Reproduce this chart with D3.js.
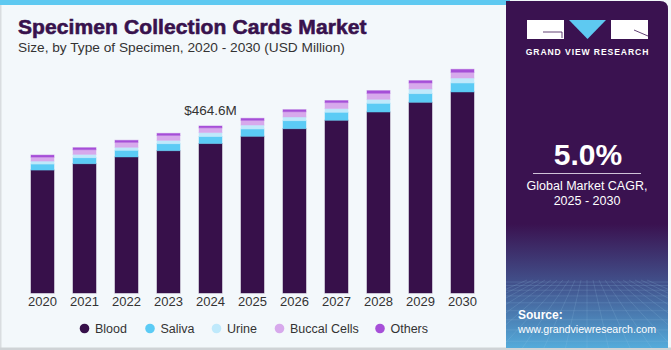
<!DOCTYPE html>
<html><head><meta charset="utf-8">
<script src="https://cdn.jsdelivr.net/npm/d3@7"></script>
<style>
html,body{margin:0;padding:0;background:#fff;}
svg{display:block;font-family:"Liberation Sans",Arial,sans-serif;}
</style></head>
<body><svg id="chart" width="671" height="350"></svg>
<script>
const years = ["2020","2021","2022","2023","2024","2025","2026","2027","2028","2029","2030"];
const seriesNames = ["Blood","Saliva","Urine","Buccal Cells","Others"];
const blood  = [342.0, 359.7, 378.4, 395.9, 415.8, 435.9, 457.1, 480.5, 503.5, 530.5, 559.2];
const saliva = [16.7, 16.7, 18.6, 19.5, 19.6, 20.3, 22.3, 22.3, 24.2, 24.2, 25.0];
const urine  = [8.3, 9.2, 8.3, 9.2, 11.0, 11.1, 10.3, 10.3, 11.1, 13.1, 13.9];
const buccal = [11.1, 13.1, 13.9, 13.9, 13.2, 13.1, 14.7, 16.7, 16.7, 16.7, 15.9];
const others = [5.6, 5.6, 5.6, 5.6, 5.0, 5.6, 5.6, 5.6, 7.5, 6.4, 8.3];
const colors = ["#37104a","#5bcbf5","#bfe9fb","#d7a9ec","#a64fd8"];
const annotationYear = "2024";
const annotationText = "$464.6M";

const svg = d3.select("#chart");
const W = 671, H = 350;

// background
svg.append("rect").attr("x",0).attr("y",0).attr("width",W).attr("height",H).attr("fill","#f3f8fb");
svg.append("rect").attr("x",0).attr("y",0).attr("width",1.5).attr("height",H).attr("fill","#d9dde0");
svg.append("rect").attr("x",0).attr("y",347.5).attr("width",W).attr("height",2.5).attr("fill","#cfd3d6");
svg.append("rect").attr("x",0).attr("y",0).attr("width",510).attr("height",5).attr("fill","#5ec9f1");

// titles
svg.append("text").attr("x",18).attr("y",34).text("Specimen Collection Cards Market")
  .attr("font-size",21).attr("font-weight",900).attr("fill","#38124d")
  .attr("stroke","#38124d").attr("stroke-width",0.6)
  .attr("font-family","'Liberation Sans',Arial,sans-serif").attr("letter-spacing",0.1);
svg.append("text").attr("x",18).attr("y",52).text("Size, by Type of Specimen, 2020 - 2030 (USD Million)")
  .attr("font-size",13.7).attr("fill","#333");

// data
const table = years.map((y,i)=>({year:y, Blood:blood[i], Saliva:saliva[i], Urine:urine[i], "Buccal Cells":buccal[i], Others:others[i]}));
const stack = d3.stack().keys(seriesNames)(table);

const x = d3.scaleBand().domain(years).range([31,474]).paddingInner(0.452).paddingOuter(0);
const y = d3.scaleLinear().domain([0,700]).range([293,41.4]);

const g = svg.append("g");
stack.forEach((s,si)=>{
  g.selectAll(null).data(s).enter().append("rect")
    .attr("x",d=>x(d.data.year)).attr("width",x.bandwidth())
    .attr("y",d=>y(d[1])).attr("height",d=>y(d[0])-y(d[1]))
    .attr("fill",colors[si]).attr("stroke",colors[si]).attr("stroke-opacity",0.45).attr("stroke-width",1);
});

// x axis labels
const xAxis = d3.axisBottom(x).tickSize(0).tickPadding(0);
const ax = svg.append("g").attr("transform","translate(0,296.5)").call(xAxis);
ax.select(".domain").remove();
ax.selectAll("text").attr("font-size",13).attr("fill","#333").attr("font-family","'Liberation Sans',Arial,sans-serif").attr("dy","0.71em");

// annotation
const ai = years.indexOf(annotationYear);
const total = blood[ai]+saliva[ai]+urine[ai]+buccal[ai]+others[ai];
svg.append("text").attr("x",x(annotationYear)+x.bandwidth()/2).attr("y",y(total)-11)
  .attr("text-anchor","middle").attr("font-size",13.5).attr("fill","#333").text(annotationText);

// legend
const legX = [84.5,150,216.5,279.5,380];
const lg = svg.append("g");
seriesNames.forEach((n,i)=>{
  lg.append("circle").attr("cx",legX[i]).attr("cy",328.5).attr("r",4.8).attr("fill",colors[i]);
  lg.append("text").attr("x",legX[i]+10.5).attr("y",333).attr("font-size",12.5).attr("fill","#333").text(n);
});

// right panel
const defs = svg.append("defs");
const grad = defs.append("linearGradient").attr("id","pg").attr("x1",0).attr("y1",0).attr("x2",0).attr("y2",1);
grad.append("stop").attr("offset","0").attr("stop-color","#3a1250");
grad.append("stop").attr("offset","0.64").attr("stop-color","#3a1250");
grad.append("stop").attr("offset","0.82").attr("stop-color","#42558f");
grad.append("stop").attr("offset","1").attr("stop-color","#55aedd");
defs.append("clipPath").attr("id","pc").append("path")
  .attr("d","M506,1 H660 Q668,1 668,9 V348 H506 Z");
const pan = svg.append("g").attr("clip-path","url(#pc)");
pan.append("rect").attr("x",506).attr("y",0).attr("width",165).attr("height",350).attr("fill","url(#pg)");
// faint perspective grid
const gridG = pan.append("g").attr("stroke","#9ccbe8").attr("stroke-opacity",0.22).attr("stroke-width",0.8).attr("fill","none");
for(let k=0;k<12;k++){ const yy=282+k*k*0.55+k*3; gridG.append("line").attr("x1",506).attr("x2",668).attr("y1",yy).attr("y2",yy); }
for(let k=-10;k<=10;k++){ gridG.append("line").attr("x1",587+k*6).attr("y1",280).attr("x2",587+k*22).attr("y2",350); }

// logo
pan.append("rect").attr("x",527).attr("y",20).attr("width",37).attr("height",19).attr("fill","#fff");
pan.append("path").attr("d","M569,20 H606 L587.5,39 Z").attr("fill","#5ec9f1");
pan.append("rect").attr("x",611).attr("y",20).attr("width",37).attr("height",19).attr("fill","#fff");
pan.append("path").attr("d","M543,32 H562 V38").attr("stroke","#3a1250").attr("stroke-width",0.8).attr("fill","none");
pan.append("path").attr("d","M634,30 L648,36").attr("stroke","#3a1250").attr("stroke-width",0.8).attr("fill","none");
pan.append("text").attr("x",587.5).attr("y",54.5).attr("text-anchor","middle").attr("font-size",8.6).attr("font-weight",700)
  .attr("fill","#fff").attr("letter-spacing",0.9).text("GRAND VIEW RESEARCH");

pan.append("text").attr("x",588).attr("y",165).attr("text-anchor","middle").attr("font-size",30).attr("font-weight",700).attr("fill","#fff").text("5.0%");
pan.append("line").attr("x1",533).attr("x2",641).attr("y1",173.5).attr("y2",173.5).attr("stroke","#cfc3d8").attr("stroke-width",1);
pan.append("text").attr("x",587).attr("y",189.5).attr("text-anchor","middle").attr("font-size",12.5).attr("fill","#fff").text("Global Market CAGR,");
pan.append("text").attr("x",587).attr("y",204.5).attr("text-anchor","middle").attr("font-size",12.5).attr("fill","#fff").text("2025 - 2030");
pan.append("text").attr("x",518).attr("y",319).attr("font-size",12).attr("font-weight",700).attr("fill","#fff").text("Source:");
pan.append("text").attr("x",518).attr("y",333).attr("font-size",11).attr("fill","#fff")
  .attr("textLength",138).attr("lengthAdjust","spacingAndGlyphs").text("www.grandviewresearch.com");
</script></body></html>
